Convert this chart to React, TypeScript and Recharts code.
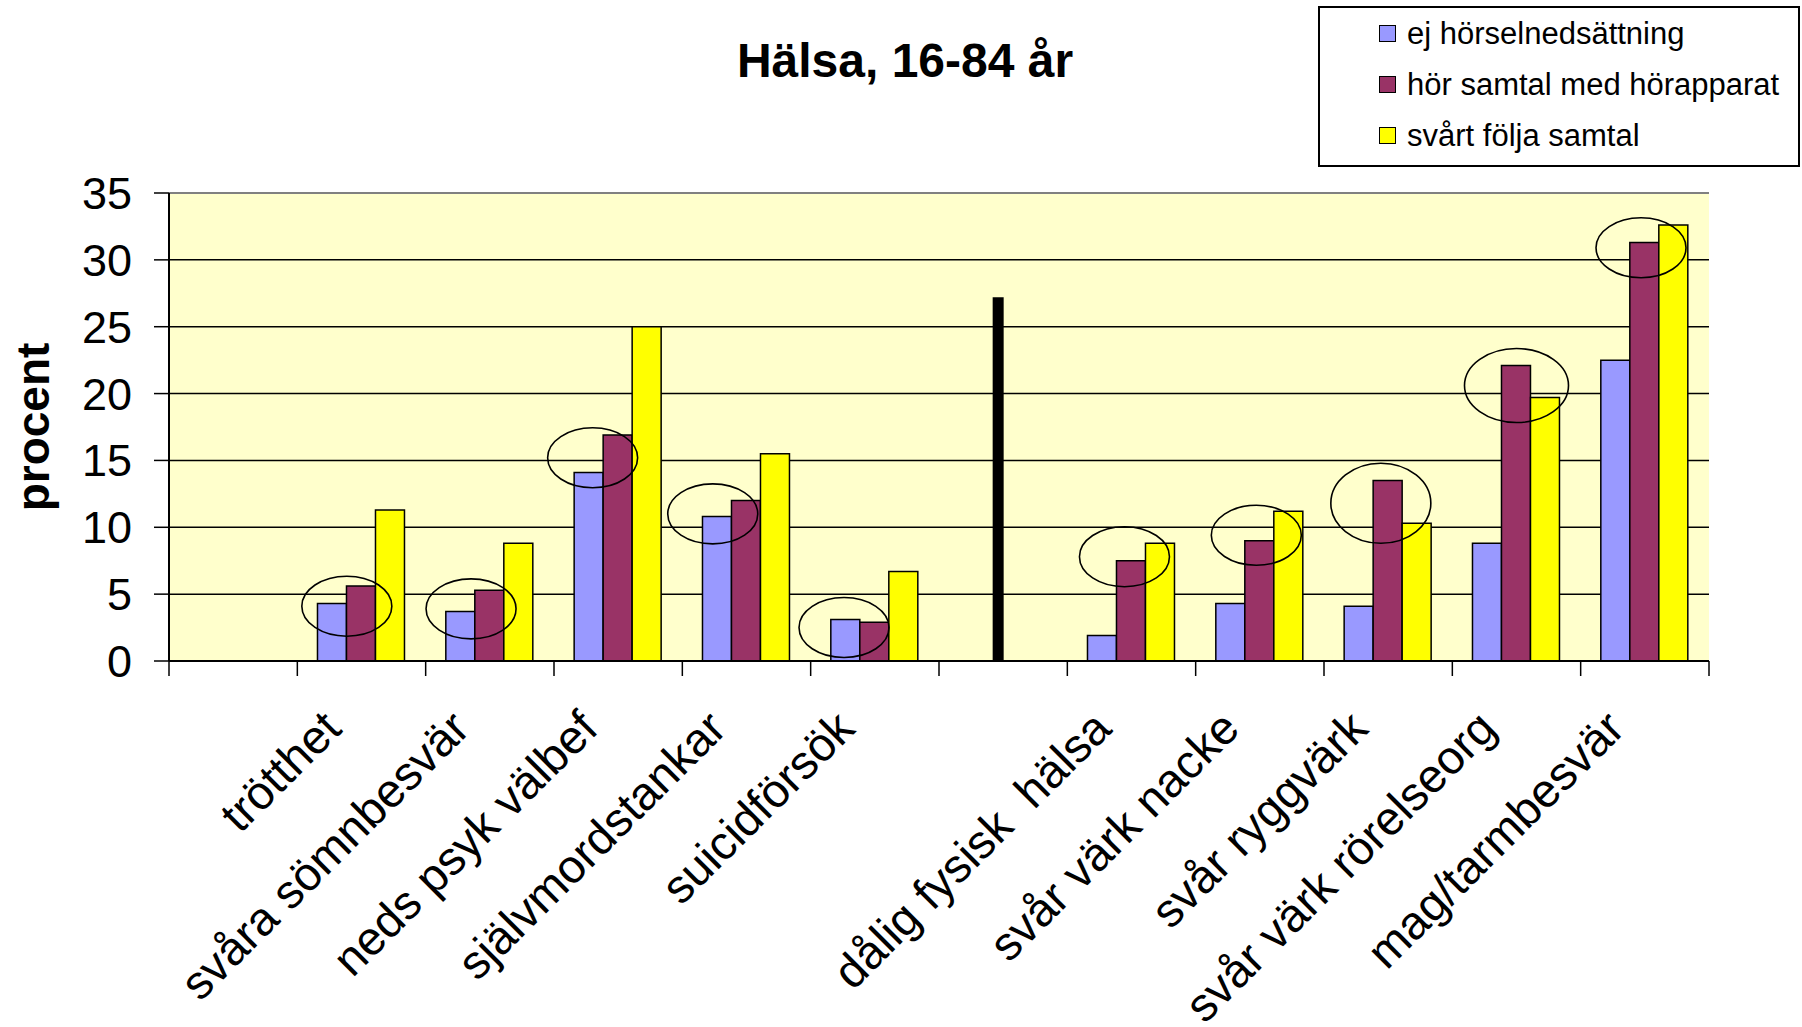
import React from 'react';
import { Bar, BarChart, CartesianGrid, Legend, ReferenceDot, ReferenceLine, XAxis, YAxis } from 'recharts';

const CATEGORIES = [
  '',
  'trötthet',
  'svåra sömnbesvär',
  'neds psyk välbef',
  'självmordstankar',
  'suicidförsök',
  '',
  'dålig fysisk  hälsa',
  'svår värk nacke',
  'svår ryggvärk',
  'svår värk rörelseorg',
  'mag/tarmbesvär',
];

const EJ_HORSEL = [null, 4.3, 3.7, 14.1, 10.8, 3.1, null, 1.9, 4.3, 4.1, 8.8, 22.5];
const HOR_MED_APPARAT = [null, 5.6, 5.3, 16.9, 12.0, 2.9, null, 7.5, 9.0, 13.5, 22.1, 31.3];
const SVART_FOLJA = [null, 11.3, 8.8, 25.0, 15.5, 6.7, null, 8.8, 11.2, 10.3, 19.7, 32.6];

const Y_TICKS = [0, 5, 10, 15, 20, 25, 30, 35];

// the thick black divider between the mental and physical groups
const DIVIDER_SLOT = 6;
const DIVIDER_TOP = 27.2;

// hand-drawn circles: category slot, value at the circle centre, shift in bar widths
const CIRCLED = [
  { slot: 1, y: 4.1, shift: -0.5 },
  { slot: 2, y: 3.9, shift: -0.64 },
  { slot: 3, y: 15.2, shift: -0.87 },
  { slot: 4, y: 11.0, shift: -1.15 },
  { slot: 5, y: 2.5, shift: -1.05 },
  { slot: 7, y: 7.8, shift: -0.24 },
  { slot: 8, y: 9.4, shift: -0.12 },
  { slot: 9, y: 11.8, shift: -0.25 },
  { slot: 10, y: 20.6, shift: 0 },
  { slot: 11, y: 30.9, shift: -0.13 },
];
const CIRCLE_SIZE: Record<number, [number, number]> = { 9: [50, 40], 10: [52, 37] };

const SERIES = [
  { key: 'ej', name: 'ej hörselnedsättning', color: '#9999FF', values: EJ_HORSEL },
  { key: 'hor', name: 'hör samtal med hörapparat', color: '#993366', values: HOR_MED_APPARAT },
  { key: 'svart', name: 'svårt följa samtal', color: '#FFFF00', values: SVART_FOLJA },
];

const data = CATEGORIES.map((name, i) => {
  const row: { [k: string]: string | number | null } = { slot: i, name };
  SERIES.forEach(s => { row[s.key] = s.values[i]; });
  return row;
});

const W = 1802;
const H = 1027;
const MARGIN = { top: 193, right: 93, bottom: 0, left: 69 };
const Y_AXIS_W = 100;
const CAT_GAP = 0.157;
const SLOT_W = (W - MARGIN.left - Y_AXIS_W - MARGIN.right) / CATEGORIES.length;
const BAR_W = SLOT_W * (1 - 2 * CAT_GAP) / SERIES.length;
const FONT = '"Liberation Sans", Arial, sans-serif';

// Excel-style: tick marks sit between categories, labels slanted under the centre
const CategoryTick = (props: any) => {
  const { x, y, payload, index } = props;
  const label = CATEGORIES[payload.value];
  const ax = x - 18;
  const ay = y + 70;
  const left = x - SLOT_W / 2;
  const right = x + SLOT_W / 2;
  return (
    <g>
      <line x1={left} y1={y} x2={left} y2={y + 15} stroke="#000" strokeWidth={1.5} />
      {index === CATEGORIES.length - 1 && (
        <line x1={right} y1={y} x2={right} y2={y + 15} stroke="#000" strokeWidth={1.5} />
      )}
      {label && (
        <text
          x={ax}
          y={ay}
          transform={`rotate(-45 ${ax} ${ay})`}
          textAnchor="end"
          fontSize={47}
          fontFamily={FONT}
          fill="#000"
          style={{ whiteSpace: 'pre' }}
        >
          {label}
        </text>
      )}
    </g>
  );
};

const LegendBox = () => (
  <div
    style={{
      width: 478,
      height: 157,
      border: '2px solid #000',
      background: '#fff',
      fontFamily: FONT,
      fontSize: 31,
      color: '#000',
      boxSizing: 'content-box',
    }}
  >
    {SERIES.map(s => (
      <div key={s.key} style={{ height: 51, display: 'flex', alignItems: 'center', paddingLeft: 59 }}>
        <span
          style={{
            display: 'inline-block',
            width: 15,
            height: 15,
            background: s.color,
            border: '1.5px solid #000',
            marginRight: 11,
          }}
        />
        <span style={{ lineHeight: 1 }}>{s.name}</span>
      </div>
    ))}
  </div>
);

export default function App() {
  return (
    <div style={{ position: 'absolute', left: 0, top: 0, width: W, height: H, background: '#fff' }}>
      <div
        style={{
          position: 'absolute',
          left: 605,
          top: 37,
          width: 600,
          textAlign: 'center',
          fontFamily: FONT,
          fontWeight: 'bold',
          fontSize: 48,
          lineHeight: '48px',
          color: '#000',
        }}
      >
        Hälsa, 16-84 år
      </div>
      <BarChart
        width={W}
        height={H}
        data={data}
        margin={MARGIN}
        barCategoryGap={`${CAT_GAP * 100}%`}
        barGap={0}
      >
        <CartesianGrid
          vertical={false}
          stroke="#000"
          strokeWidth={1.5}
          fill="#FFFFCC"
          fillOpacity={1}
        />
        <XAxis
          dataKey="slot"
          type="category"
          interval={0}
          height={366}
          axisLine={{ stroke: '#000', strokeWidth: 2 }}
          tickLine={false}
          tickSize={0}
          tickMargin={0}
          tick={<CategoryTick />}
        />
        <YAxis
          domain={[0, 35]}
          ticks={Y_TICKS}
          width={Y_AXIS_W}
          tickSize={15}
          tickMargin={22}
          axisLine={{ stroke: '#000', strokeWidth: 2 }}
          tickLine={{ stroke: '#000', strokeWidth: 1.5 }}
          tick={{ fontSize: 45, fontFamily: FONT, fill: '#000' }}
          label={{
            content: (p: any) => {
              const vb = p.viewBox;
              const lx = vb.x - 36;
              const ly = vb.y + vb.height / 2;
              return (
                <text
                  x={lx}
                  y={ly}
                  transform={`rotate(-90 ${lx} ${ly})`}
                  textAnchor="middle"
                  dominantBaseline="central"
                  fontSize={46}
                  fontWeight="bold"
                  fontFamily={FONT}
                  fill="#000"
                >
                  procent
                </text>
              );
            },
          }}
        />
        <YAxis
          yAxisId="frame"
          orientation="right"
          domain={[0, 35]}
          width={0}
          tick={false}
          tickLine={false}
          axisLine={{ stroke: '#808080', strokeWidth: 2 }}
        />
        <ReferenceLine y={35} stroke="#808080" strokeWidth={2} />
        {SERIES.map(s => (
          <Bar
            key={s.key}
            dataKey={s.key}
            name={s.name}
            fill={s.color}
            stroke="#000"
            strokeWidth={1.5}
            isAnimationActive={false}
          />
        ))}
        <ReferenceLine
          segment={[{ x: DIVIDER_SLOT, y: 0 }, { x: DIVIDER_SLOT, y: DIVIDER_TOP }]}
          stroke="#000"
          strokeWidth={11}
          shape={(p: any) => (
            <line x1={p.x1 - 5} y1={p.y1} x2={p.x2 - 5} y2={p.y2} stroke="#000" strokeWidth={11} />
          )}
        />
        {CIRCLED.map(c => {
          const [rx, ry] = CIRCLE_SIZE[c.slot] || [45, 30];
          return (
            <ReferenceDot
              key={c.slot}
              x={c.slot}
              y={c.y}
              r={rx}
              shape={(p: any) => (
                <ellipse
                  cx={p.cx + c.shift * BAR_W}
                  cy={p.cy}
                  rx={rx}
                  ry={ry}
                  fill="none"
                  stroke="#000"
                  strokeWidth={1.6}
                />
              )}
            />
          );
        })}
        <Legend
          layout="horizontal"
          verticalAlign="middle"
          align="center"
          wrapperStyle={{ left: 1318, top: 6, width: 482, height: 161 }}
          content={() => <LegendBox />}
        />
      </BarChart>
    </div>
  );
}
